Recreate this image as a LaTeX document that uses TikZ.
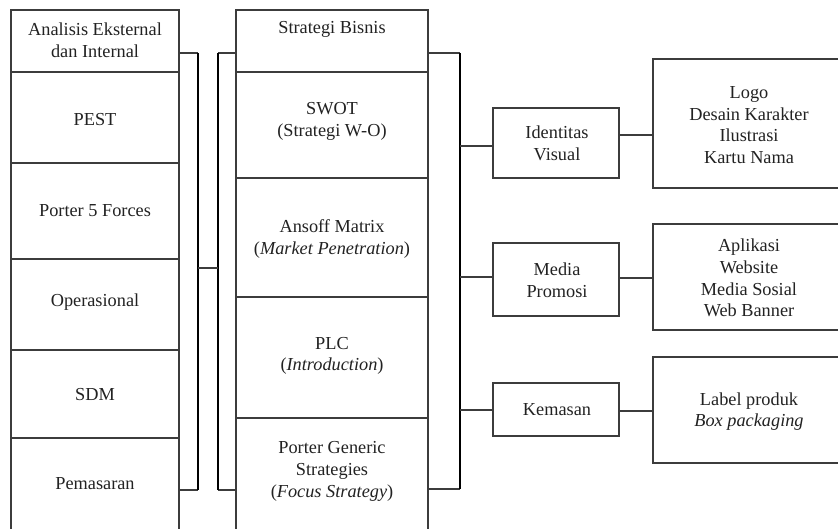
\documentclass[tikz,border=0pt]{standalone}
\usepackage{fontspec}
\setmainfont{Liberation Serif}
\definecolor{boxline}{HTML}{3C3C3C}
\definecolor{txt}{HTML}{222222}
\begin{document}
\begin{tikzpicture}[x=1pt,y=-1pt,
  cell/.style={draw=boxline, fill=white, line width=1.3pt, inner sep=0pt, rectangle},
  lbl/.style={text=txt, align=center, inner sep=0pt, font=\fontsize{18.3}{21.6}\selectfont},
  conn/.style={draw=boxline, line width=1.3pt},
  bar/.style={draw=black, line width=2.6pt},
]
\useasboundingbox (0,0) rectangle (838,529);
\clip (0,0) rectangle (838,529);
\fill[white] (0,0) rectangle (838,529);

% left column
\node[cell, minimum width=168pt, minimum height=62pt]  (a1) at (95,41) {};
\node[cell, minimum width=168pt, minimum height=91pt]  (a2) at (95,117.5) {};
\node[cell, minimum width=168pt, minimum height=96pt]  (a3) at (95,211) {};
\node[cell, minimum width=168pt, minimum height=91pt]  (a4) at (95,304.5) {};
\node[cell, minimum width=168pt, minimum height=88pt]  (a5) at (95,394) {};
\node[cell, minimum width=168pt, minimum height=110pt] (a6) at (95,493) {};

% middle column
\node[cell, minimum width=192pt, minimum height=62pt]  (b1) at (332,41) {};
\node[cell, minimum width=192pt, minimum height=106pt] (b2) at (332,125) {};
\node[cell, minimum width=192pt, minimum height=119pt] (b3) at (332,237.5) {};
\node[cell, minimum width=192pt, minimum height=121pt] (b4) at (332,357.5) {};
\node[cell, minimum width=192pt, minimum height=120pt] (b5) at (332,478) {};

% category boxes
\node[cell, minimum width=126pt, minimum height=70pt] (c1) at (556,143) {};
\node[cell, minimum width=126pt, minimum height=73pt] (c2) at (556,279.5) {};
\node[cell, minimum width=126pt, minimum height=53pt] (c3) at (556,409.5) {};

% detail boxes (cut off at the right edge)
\node[cell, minimum width=192pt, minimum height=129pt] (d1) at (749,123.5) {};
\node[cell, minimum width=192pt, minimum height=106pt] (d2) at (749,277) {};
\node[cell, minimum width=192pt, minimum height=106pt] (d3) at (749,410) {};

% texts
\node[lbl] (ta1) at (95,40.5) {Analisis Eksternal\\dan Internal};
\node[lbl] (ta2) at (95,120) {PEST};
\node[lbl] (ta3) at (95,211) {Porter 5 Forces};
\node[lbl] (ta4) at (95,302) {Operasional};
\node[lbl] (ta5) at (95,395) {SDM};
\node[lbl] (ta6) at (95,484) {Pemasaran};

\node[lbl] (tb1) at (332,29) {Strategi Bisnis};
\node[lbl] (tb2) at (332,121.5) {SWOT\\(Strategi W-O)};
\node[lbl] (tb3) at (332,239) {Ansoff Matrix\\(\textit{Market Penetration})};
\node[lbl] (tb4) at (332,356) {PLC\\(\textit{Introduction})};
\node[lbl] (tb5) at (332,471.5) {Porter Generic\\Strategies\\(\textit{Focus Strategy})};

\node[lbl] (tc1) at (557,143.5) {Identitas\\Visual};
\node[lbl] (tc2) at (557,280.5) {Media\\Promosi};
\node[lbl] (tc3) at (557,410) {Kemasan};

\node[lbl] (td1) at (749,125) {Logo\\Desain Karakter\\Ilustrasi\\Kartu Nama};
\node[lbl] (td2) at (749,278) {Aplikasi\\Website\\Media Sosial\\Web Banner};
\node[lbl] (td3) at (749,411.5) {Label produk\\\textit{Box packaging}};

% bracket coordinates
\coordinate (L1) at (198,53);
\coordinate (L2) at (198,490);
\coordinate (M1) at (218,53);
\coordinate (M2) at (218,490);
\coordinate (R1) at (460,53);
\coordinate (R2) at (460,489);
\coordinate (Lj) at (198,268);
\coordinate (Mj) at (218,268);
\coordinate (Rc1) at (460,146);
\coordinate (Rc2) at (460,277);
\coordinate (Rc3) at (460,410);

% left bracket
\draw[conn] (a1.east |- L1) -- (L1);
\draw[conn] (a6.east |- L2) -- (L2);
\draw[bar] (L1) -- (L2);
% middle-left bracket
\draw[conn] (b1.west |- M1) -- (M1);
\draw[conn] (b5.west |- M2) -- (M2);
\draw[bar] (M1) -- (M2);
\draw[conn] (Lj) -- (Mj);
% right bracket
\draw[conn] (b1.east |- R1) -- (R1);
\draw[conn] (b5.east |- R2) -- (R2);
\draw[bar] (R1) -- (R2);
% branches
\draw[conn] (Rc1) -- (c1.west |- Rc1);
\draw[conn] (Rc2) -- (c2.west |- Rc2);
\draw[conn] (Rc3) -- (c3.west |- Rc3);
\draw[conn] (c1.east |- 0,135) -- (d1.west |- 0,135);
\draw[conn] (c2.east |- 0,278) -- (d2.west |- 0,278);
\draw[conn] (c3.east |- 0,411) -- (d3.west |- 0,411);
\end{tikzpicture}
\end{document}
